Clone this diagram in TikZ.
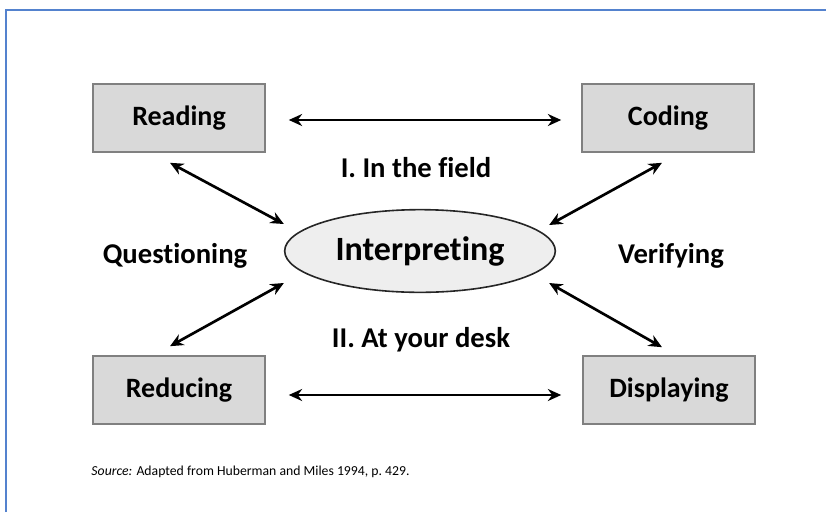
\documentclass[tikz,border=0pt]{standalone}
\usepackage{fontspec}
\setmainfont[Ligatures=NoCommon]{Carlito}
\usetikzlibrary{shapes.geometric,calc,arrows.meta}

\definecolor{framblue}{RGB}{84,130,206}
\definecolor{boxgray}{RGB}{217,217,217}
\definecolor{boxedge}{RGB}{128,128,128}
\definecolor{ellgray}{RGB}{238,238,238}

\tikzset{every picture/.style={line width=0.75pt}}
\tikzset{
  stagebox/.style={draw=boxedge,fill=boxgray,line width=1.2pt,minimum width=129pt,minimum height=51pt,inner sep=0pt,font=\fontsize{21}{25}\selectfont\bfseries},
  centreell/.style={ellipse,draw=black!85,fill=ellgray,line width=1.2pt,minimum width=203pt,minimum height=62pt,inner sep=0pt,font=\fontsize{25.5}{30}\selectfont\bfseries},
  lbl/.style={inner sep=0.75pt,font=\fontsize{21.5}{25}\selectfont\bfseries},
  twoway/.style={{Stealth[length=10pt,width=9pt]}-{Stealth[length=10pt,width=9pt]},line width=2pt}
}

\begin{document}
\begin{tikzpicture}[x=0.75pt,y=0.75pt,yscale=-1,xscale=1]
\useasboundingbox (0,0) rectangle (826,512);

%Frame
\draw [framblue,line width=2pt] (6,512) -- (6,10) -- (826,10) ;

% Stage boxes
\node [stagebox] (reading) at (179,118) {Reading};
\node [stagebox] (coding) at (668,118) {Coding};
\node [stagebox] (reducing) at (179,390) {Reducing};
\node [stagebox] (displaying) at (669,390) {Displaying};
% Centre ellipse
\node [centreell] (interp) at (420,251) {Interpreting};

% Text Node
\node [lbl] (field) at (416,168) {I. In the field};
% Text Node
\node [lbl] (desk) at (421,340) {II. At your desk};
% Text Node
\node [lbl] (quest) at (175,256) {Questioning};
% Text Node
\node [lbl] (verif) at (671,256) {Verifying};
% Text Node
\node [anchor=west,inner sep=0.75pt,font=\fontsize{10.3}{12}\selectfont] (source) at (90,472) {\textit{Source:} Adapted from Huberman and Miles 1994, p.\ 429.};

%Straight Lines
\draw [twoway] ($(reading.east)+(23,2)$) -- ($(coding.west)+(-20,2)$) ;
\draw [twoway] ($(reducing.east)+(23,5)$) -- ($(displaying.west)+(-21,5)$) ;
\draw [twoway] ($(reading.south)+(-9,10)$) -- ($(interp.west)+(0,-27)$) ;
\draw [twoway] ($(coding.south)+(-6,10)$) -- ($(interp.east)+(-7,-26)$) ;
\draw [twoway] ($(reducing.north)+(-9,-9)$) -- ($(interp.west)+(0,32)$) ;
\draw [twoway] ($(displaying.north)+(-7,-8)$) -- ($(interp.east)+(-7,32)$) ;

\end{tikzpicture}
\end{document}
